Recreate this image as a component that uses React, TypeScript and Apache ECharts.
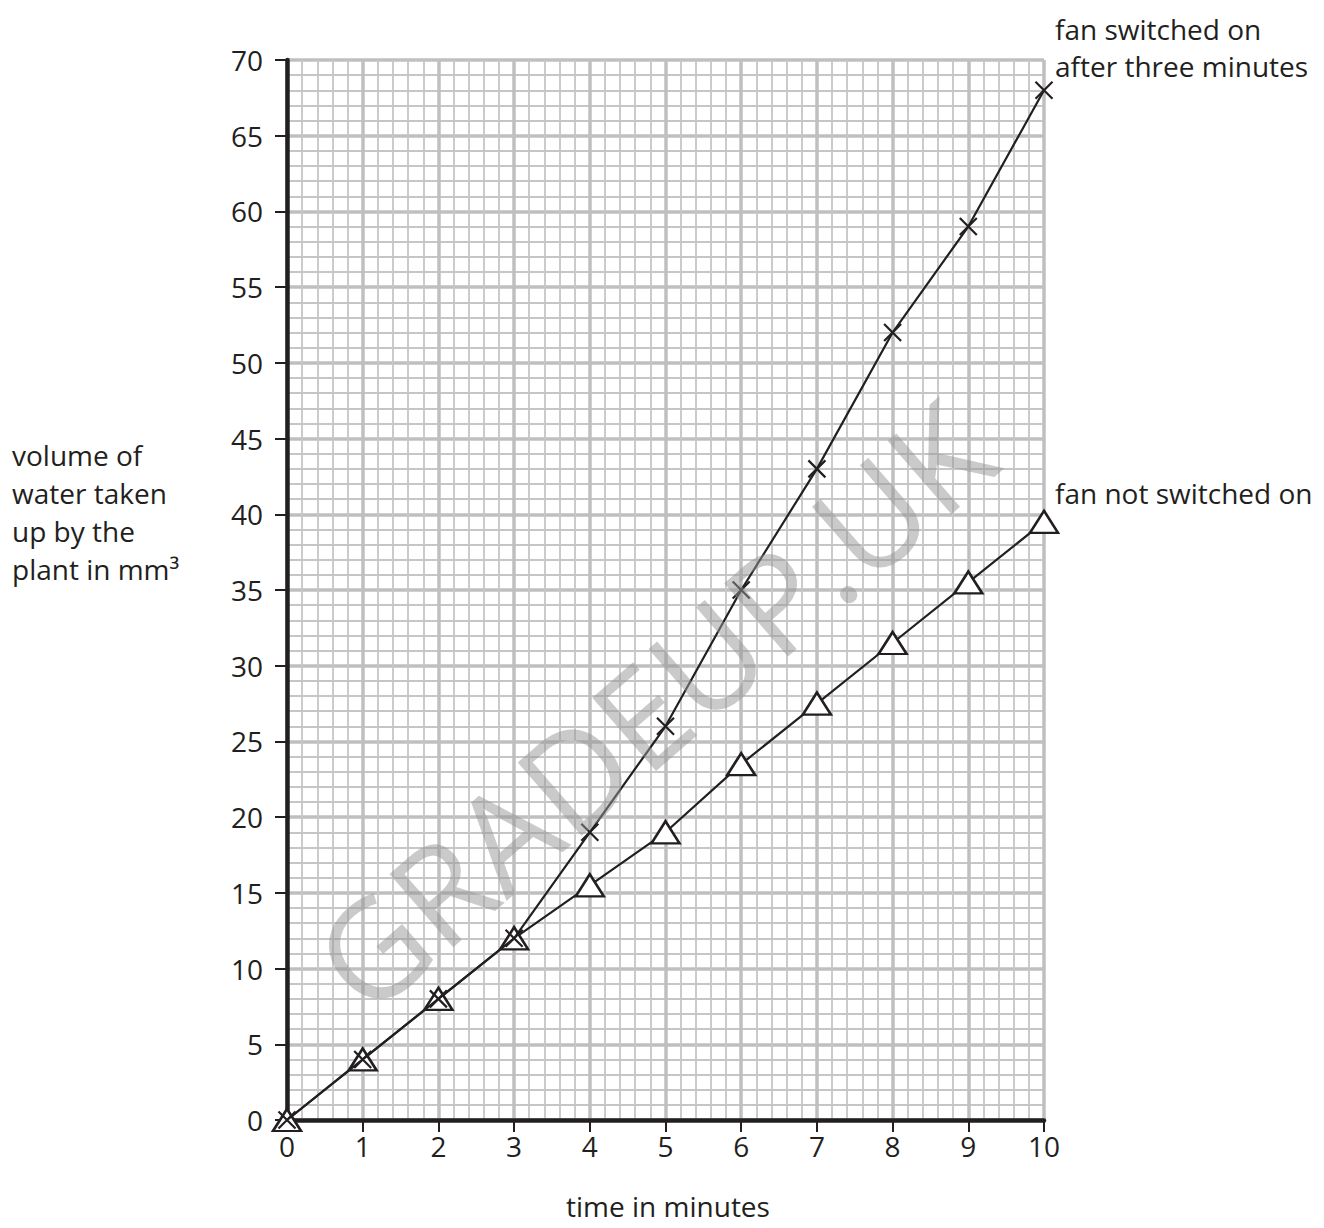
import React, { useEffect, useRef } from "react";
import * as echarts from "echarts";

const minutes = [0, 1, 2, 3, 4, 5, 6, 7, 8, 9, 10];
const fanOn = [0, 4, 8, 12, 19, 26, 35, 43, 52, 59, 68];
const fanOff = [0, 4, 8, 12, 15.5, 19, 23.5, 27.5, 31.5, 35.5, 39.5];
const fanOnLabel = ["fan switched on", "after three minutes"];
const fanOffLabel = "fan not switched on";
const xName = "time in minutes";
const yNameLines = ["volume of", "water taken", "up by the", "plant in mm\u00b3"];

const INK = "#231f20";
const FONT = "'Open Sans', 'Noto Sans', sans-serif";
const FS = 28;

export default function App() {
  const ref = useRef<HTMLDivElement>(null);
  useEffect(() => {
    if (!ref.current) return;
    const chart = echarts.init(ref.current, undefined, { renderer: "svg" });
    const crossPath = "path://M0,0L10,10M10,0L0,10";
    chart.setOption({
      animation: false,
      backgroundColor: "#ffffff",
      textStyle: { fontFamily: FONT },
      grid: { left: 287, top: 60, width: 757, height: 1060, containLabel: false },
      xAxis: {
        type: "value",
        min: 0,
        max: 10,
        interval: 1,
        axisLine: { show: true, onZero: false, lineStyle: { color: INK, width: 4.5 } },
        axisTick: { show: true, inside: false, length: 12, lineStyle: { color: INK, width: 2 } },
        axisLabel: { color: INK, fontSize: FS, margin: 12, fontFamily: FONT },
        splitLine: { show: true, lineStyle: { color: "#bfbfc1", width: 3.5 } },
        minorTick: { show: false, splitNumber: 5 },
        minorSplitLine: { show: true, lineStyle: { color: "#c6c6c8", width: 1.8 } },
      },
      yAxis: {
        type: "value",
        min: 0,
        max: 70,
        interval: 5,
        axisLine: { show: true, onZero: false, lineStyle: { color: INK, width: 4.5 } },
        axisTick: { show: true, inside: false, length: 12, lineStyle: { color: INK, width: 2 } },
        axisLabel: { color: INK, fontSize: FS, margin: 24, fontFamily: FONT },
        splitLine: { show: true, lineStyle: { color: "#bfbfc1", width: 3.5 } },
        minorTick: { show: false, splitNumber: 5 },
        minorSplitLine: { show: true, lineStyle: { color: "#c6c6c8", width: 1.8 } },
      },
      graphic: [
        {
          type: "text",
          x: 668,
          y: 1206,
          style: { text: xName, fontSize: FS, fill: INK, fontFamily: FONT, align: "center", verticalAlign: "middle" },
          silent: true,
        },
        {
          type: "text",
          x: 12,
          y: 436,
          style: {
            text: yNameLines.join("\n"),
            fontSize: FS,
            lineHeight: 38,
            fill: INK,
            fontFamily: FONT,
            align: "left",
            verticalAlign: "top",
          },
          silent: true,
        },
        {
          type: "text",
          x: 1055,
          y: 10,
          style: { text: fanOnLabel.join("\n"), fontSize: FS, lineHeight: 37, fill: INK, fontFamily: FONT, align: "left", verticalAlign: "top" },
          silent: true,
        },
        {
          type: "text",
          x: 1055,
          y: 493,
          style: { text: fanOffLabel, fontSize: FS, fill: INK, fontFamily: FONT, align: "left", verticalAlign: "middle" },
          silent: true,
        },
        {
          type: "text",
          x: 652,
          y: 705,
          rotation: (41 * Math.PI) / 180,
          style: {
            text: "GRADEUP.UK",
            fontSize: 136,
            fill: "rgba(150,150,150,0.5)",
            fontFamily: FONT,
            align: "center",
            verticalAlign: "middle",
          },
          silent: true,
          z: 100,
        },
      ],
      series: [
        {
          type: "line",
          data: minutes.map((m, i) => [m, fanOff[i]]),
          symbol: "triangle",
          symbolSize: [28, 22],
          itemStyle: { color: "#ffffff", borderColor: INK, borderWidth: 2.5 },
          showAllSymbol: true,
          lineStyle: { color: INK, width: 2.2 },
          z: 3,
        },
        {
          type: "line",
          data: minutes.map((m, i) => [m, fanOn[i]]),
          symbol: crossPath,
          symbolSize: 17,
          itemStyle: { color: "none", borderColor: INK, borderWidth: 2.2 },
          showAllSymbol: true,
          lineStyle: { color: INK, width: 2.2 },
          z: 4,
        },
      ],
    });
    return () => chart.dispose();
  }, []);
  return (
    <div
      ref={ref}
      style={{ position: "absolute", left: 0, top: 0, width: 1324, height: 1228 }}
    />
  );
}
